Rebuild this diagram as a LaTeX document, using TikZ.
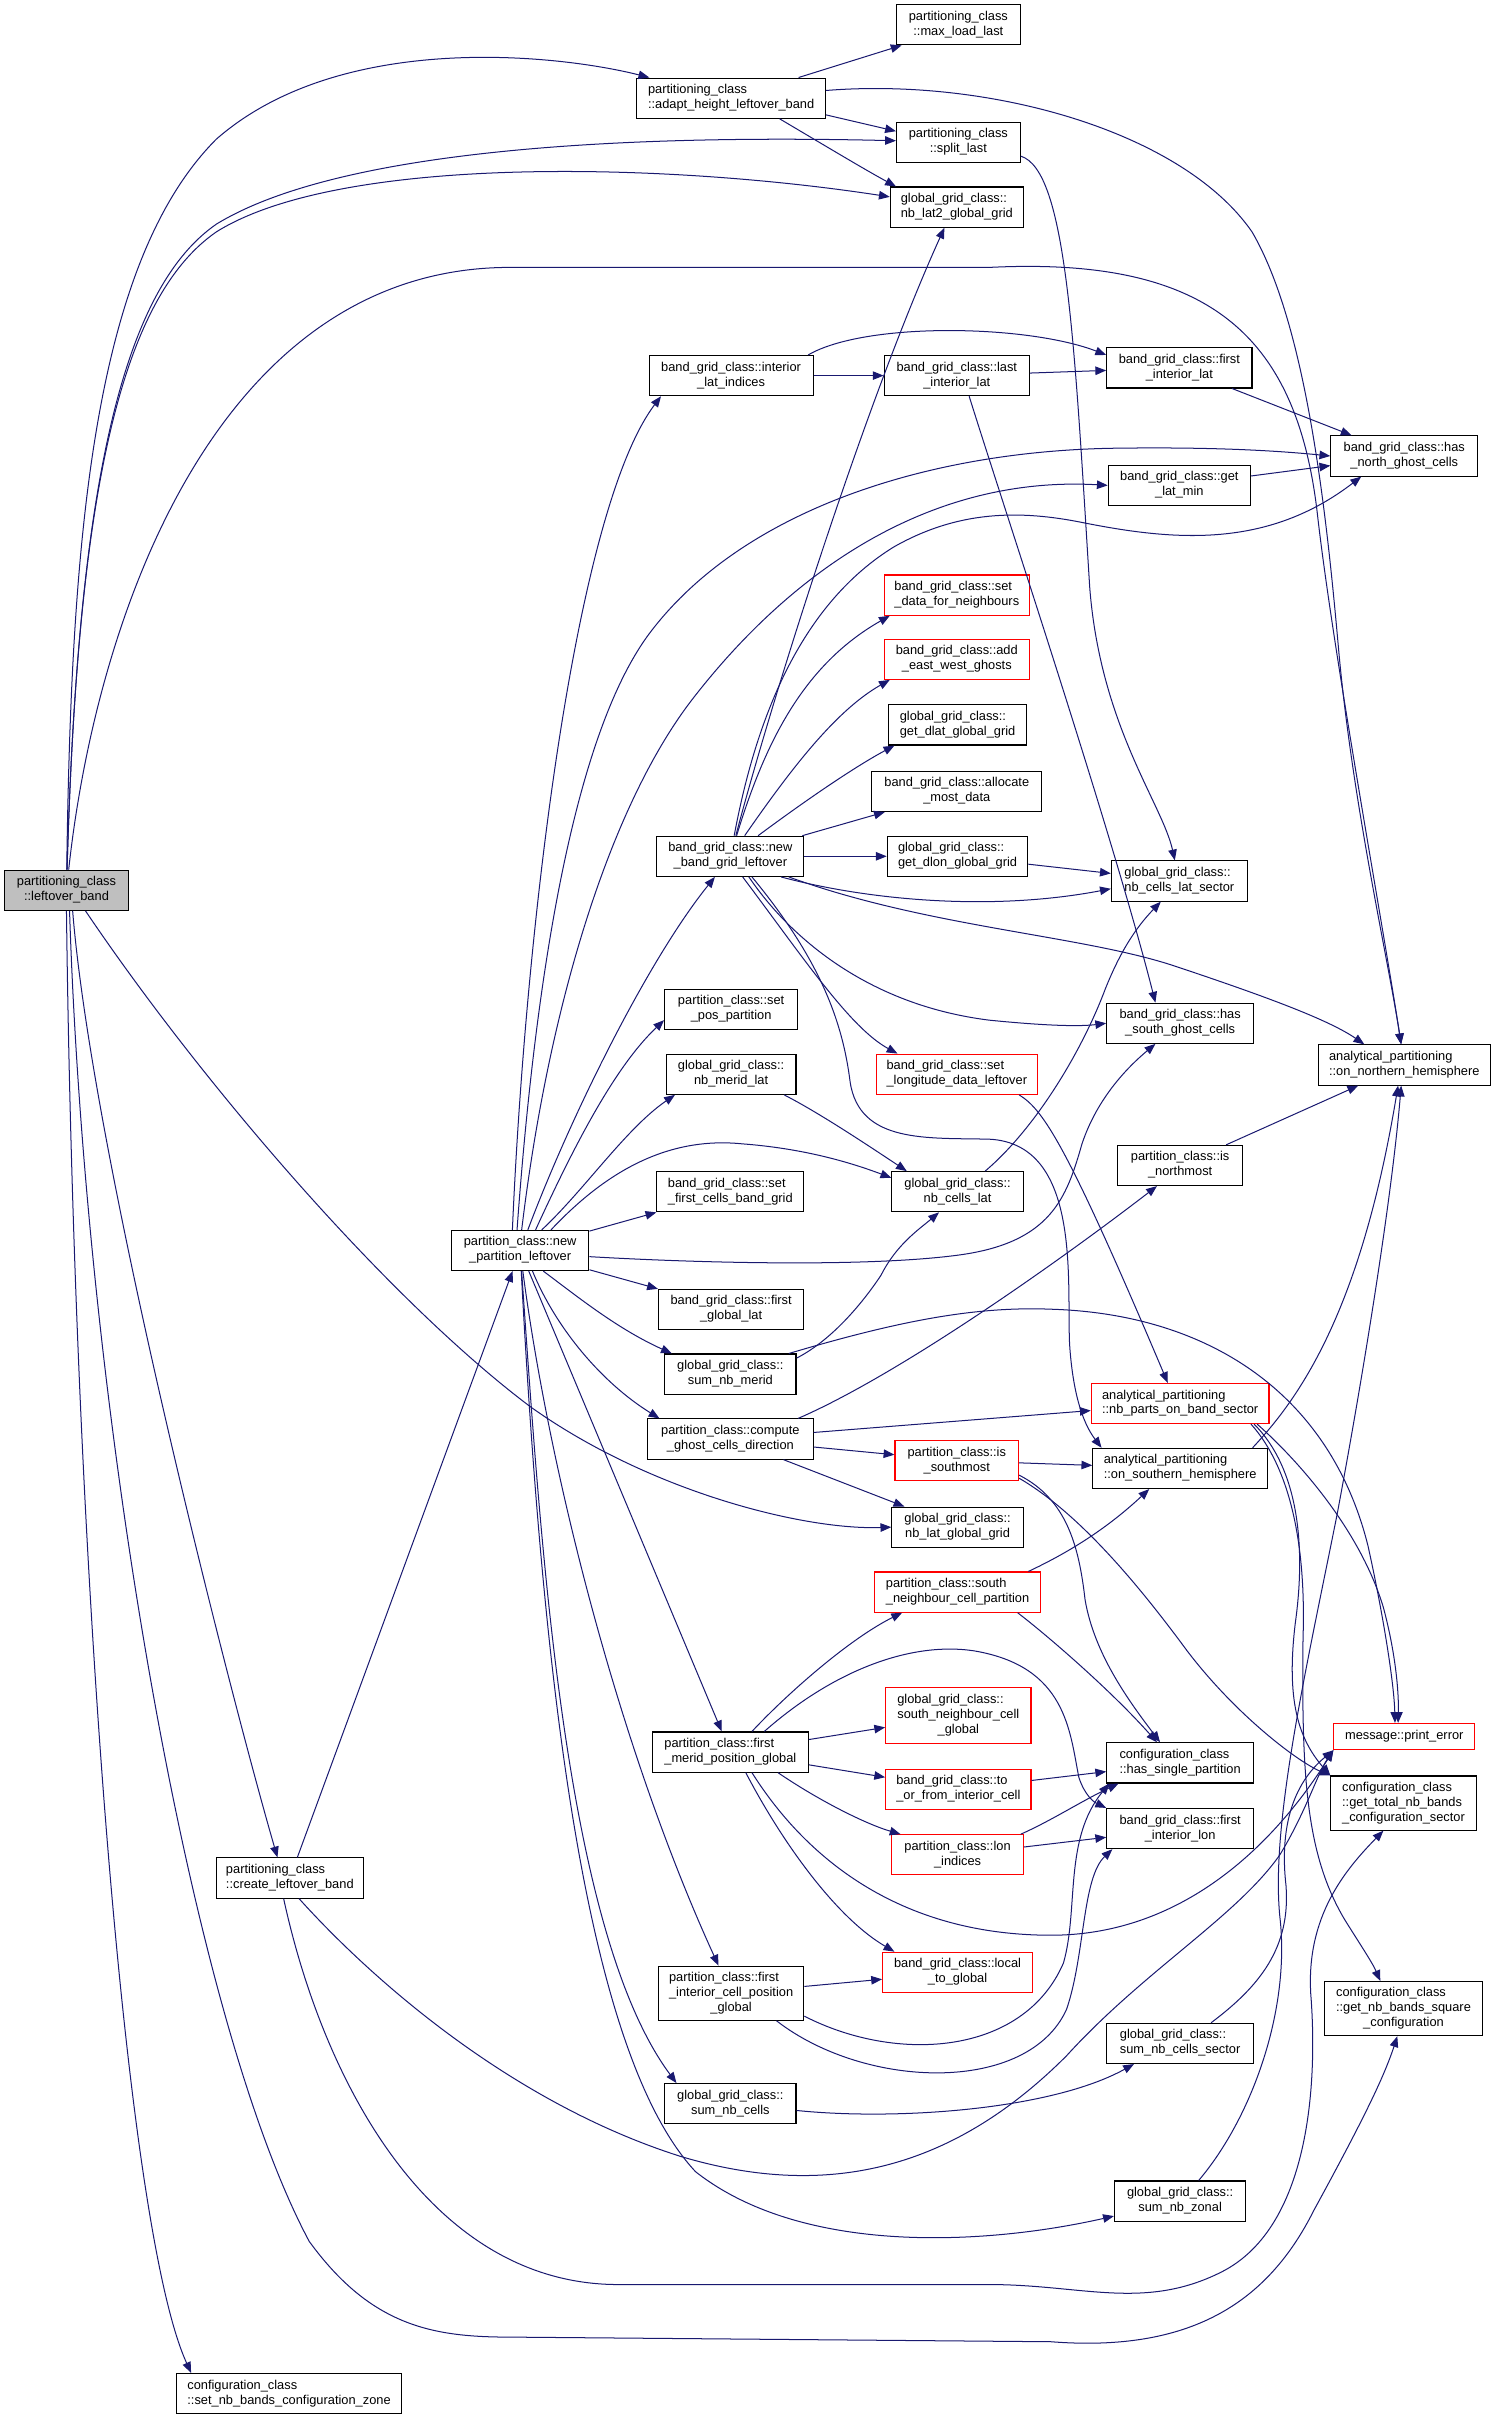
\documentclass[tikz,border=0pt]{standalone}
\usepackage{fontspec}
\setmainfont{Liberation Sans}
\usetikzlibrary{arrows.meta,calc}
\definecolor{edgeblue}{HTML}{191970}
\definecolor{nred}{HTML}{FF0000}
\definecolor{nfill}{HTML}{BFBFBF}
\newcommand{\nlab}[2]{\begin{tabular}{@{}l@{}}#1\\\multicolumn{1}{@{}c@{}}{#2}\end{tabular}}
\newcommand{\nlabc}[3]{\begin{tabular}{@{}l@{}}#1\\#2\\\multicolumn{1}{@{}c@{}}{#3}\end{tabular}}
\begin{document}
\begin{tikzpicture}[x=1pt,y=-1pt,
  box/.style={draw=black, line width=0.7pt, fill=white, inner xsep=2pt, inner ysep=1pt,
    minimum height=26pt, font=\fontsize{8.3}{9.7}\selectfont},
  rbox/.style={box, draw=nred},
  e/.style={draw=edgeblue, line width=0.65pt, -{Triangle[length=7pt,width=5.5pt]}}]
\useasboundingbox (0,0) rectangle (968,1565);
\fill[white] (0,0) rectangle (968,1565);
% nodes
\node[box,fill=nfill,minimum width=80pt] (L) at (43,576) {\nlab{partitioning\_class}{::leftover\_band}};
\node[box,minimum width=80pt] (mll) at (620,16) {\nlab{partitioning\_class}{::max\_load\_last}};
\node[box,minimum width=122pt] (adapt) at (473,63.5) {\nlab{partitioning\_class}{::adapt\_height\_leftover\_band}};
\node[box,minimum width=80pt] (spl) at (620,92) {\nlab{partitioning\_class}{::split\_last}};
\node[box,minimum width=86pt] (nblat2) at (619,134) {\nlab{global\_grid\_class::}{nb\_lat2\_global\_grid}};
\node[box,minimum width=106pt] (ili) at (473,243) {\nlab{band\_grid\_class::interior}{\_lat\_indices}};
\node[box,minimum width=94pt] (lil) at (619,243) {\nlab{band\_grid\_class::last}{\_interior\_lat}};
\node[box,minimum width=94pt] (fil) at (763,238) {\nlab{band\_grid\_class::first}{\_interior\_lat}};
\node[box,minimum width=95pt] (hn) at (908.5,295) {\nlab{band\_grid\_class::has}{\_north\_ghost\_cells}};
\node[box,minimum width=92pt] (glm) at (763,314) {\nlab{band\_grid\_class::get}{\_lat\_min}};
\node[rbox,minimum width=94pt] (sdn) at (619,385) {\nlab{band\_grid\_class::set}{\_data\_for\_neighbours}};
\node[rbox,minimum width=94pt] (aew) at (619,426.5) {\nlab{band\_grid\_class::add}{\_east\_west\_ghosts}};
\node[box,minimum width=89pt] (gdlat) at (619.5,469) {\nlab{global\_grid\_class::}{get\_dlat\_global\_grid}};
\node[box,minimum width=110pt] (amd) at (619,512) {\nlab{band\_grid\_class::allocate}{\_most\_data}};
\node[box,minimum width=95pt] (nbg) at (472.5,554) {\nlab{band\_grid\_class::new}{\_band\_grid\_leftover}};
\node[box,minimum width=91pt] (gdlon) at (619.5,554) {\nlab{global\_grid\_class::}{get\_dlon\_global\_grid}};
\node[box,minimum width=88pt] (ncls) at (763,570) {\nlab{global\_grid\_class::}{nb\_cells\_lat\_sector}};
\node[box,minimum width=95pt] (hs) at (763.5,662) {\nlab{band\_grid\_class::has}{\_south\_ghost\_cells}};
\node[box,minimum width=111pt] (onh) at (908.5,689) {\nlab{analytical\_partitioning}{::on\_northern\_hemisphere}};
\node[box,minimum width=86pt] (spp) at (473,653) {\nlab{partition\_class::set}{\_pos\_partition}};
\node[box,minimum width=84pt] (nml) at (473,695) {\nlab{global\_grid\_class::}{nb\_merid\_lat}};
\node[rbox,minimum width=104pt] (sld) at (619,695) {\nlab{band\_grid\_class::set}{\_longitude\_data\_leftover}};
\node[box,minimum width=81pt] (inm) at (763.5,754) {\nlab{partition\_class::is}{\_northmost}};
\node[box,minimum width=85pt] (ncl) at (619.5,771) {\nlab{global\_grid\_class::}{nb\_cells\_lat}};
\node[box,minimum width=95pt] (sfc) at (472.5,771) {\nlab{band\_grid\_class::set}{\_first\_cells\_band\_grid}};
\node[box,minimum width=89pt] (npl) at (336.5,809) {\nlab{partition\_class::new}{\_partition\_leftover}};
\node[box,minimum width=94pt] (fgl) at (473,847) {\nlab{band\_grid\_class::first}{\_global\_lat}};
\node[box,minimum width=85pt] (snm) at (472.5,889) {\nlab{global\_grid\_class::}{sum\_nb\_merid}};
\node[rbox,minimum width=115pt] (npb) at (763.5,908) {\nlab{analytical\_partitioning}{::nb\_parts\_on\_band\_sector}};
\node[box,minimum width=107pt] (cgd) at (472.5,931) {\nlab{partition\_class::compute}{\_ghost\_cells\_direction}};
\node[rbox,minimum width=80pt] (ism) at (619,945) {\nlab{partition\_class::is}{\_southmost}};
\node[box,minimum width=113pt] (osh) at (763.5,950) {\nlab{analytical\_partitioning}{::on\_southern\_hemisphere}};
\node[box,minimum width=85pt] (nlgg) at (619.5,988) {\nlab{global\_grid\_class::}{nb\_lat\_global\_grid}};
\node[rbox,minimum width=107pt] (sncp) at (619.5,1030) {\nlab{partition\_class::south}{\_neighbour\_cell\_partition}};
\node[rbox,minimum width=94pt,minimum height=36pt] (sncg) at (620,1110) {\nlabc{global\_grid\_class::}{south\_neighbour\_cell}{\_global}};
\node[rbox,minimum width=91pt,minimum height=17pt] (pe) at (908.5,1123.5) {message::print\_error};
\node[box,minimum width=101pt] (fmp) at (472.5,1133.5) {\nlab{partition\_class::first}{\_merid\_position\_global}};
\node[box,minimum width=95pt] (hsp) at (763.5,1140.5) {\nlab{configuration\_class}{::has\_single\_partition}};
\node[rbox,minimum width=94pt] (tof) at (620,1157.5) {\nlab{band\_grid\_class::to}{\_or\_from\_interior\_cell}};
\node[box,minimum width=94pt,minimum height=35pt] (gtn) at (908,1166.5) {\nlabc{configuration\_class}{::get\_total\_nb\_bands}{\_configuration\_sector}};
\node[box,minimum width=95pt] (filon) at (763.5,1183) {\nlab{band\_grid\_class::first}{\_interior\_lon}};
\node[rbox,minimum width=85pt] (lonidx) at (619.5,1200) {\nlab{partition\_class::lon}{\_indices}};
\node[box,minimum width=95pt] (clb) at (187.5,1215) {\nlab{partitioning\_class}{::create\_leftover\_band}};
\node[rbox,minimum width=97pt] (ltg) at (619.5,1276) {\nlab{band\_grid\_class::local}{\_to\_global}};
\node[box,minimum width=94pt,minimum height=35pt] (ficp) at (473,1289.5) {\nlabc{partition\_class::first}{\_interior\_cell\_position}{\_global}};
\node[box,minimum width=102pt,minimum height=35pt] (gnbs) at (908,1299.5) {\nlabc{configuration\_class}{::get\_nb\_bands\_square}{\_configuration}};
\node[box,minimum width=95pt] (sncs) at (763.5,1322) {\nlab{global\_grid\_class::}{sum\_nb\_cells\_sector}};
\node[box,minimum width=85pt] (snc) at (472.5,1361) {\nlab{global\_grid\_class::}{sum\_nb\_cells}};
\node[box,minimum width=85pt] (snz) at (763.5,1424) {\nlab{global\_grid\_class::}{sum\_nb\_zonal}};
\node[box,minimum width=146pt] (snbz) at (187,1548.5) {\nlab{configuration\_class}{::set\_nb\_bands\_configuration\_zone}};
% edges from leftover_band
\draw[e] (L) .. controls (46,350) and (60,170) .. (140,90) .. controls (220,20) and (360,35) .. (adapt);
\draw[e] (L) .. controls (50,330) and (75,190) .. (140,145) .. controls (230,90) and (450,88) .. (spl);
\draw[e] (L) .. controls (50,330) and (75,195) .. (140,150) .. controls (220,100) and (430,105) .. (nblat2);
\draw[e] (L) .. controls (62,400) and (140,173) .. (330,173) -- (640,173) .. controls (780,166) and (838,215) .. (852,330) .. controls (862,420) and (895,600) .. (onh);
\draw[e] ($(L.south east)+(-28,0)$) .. controls (130,700) and (250,840) .. (343,910) .. controls (420,965) and (520,990) .. (nlgg.west);
\draw[e] ($(L.south)+(4,0)$) .. controls (60,750) and (150,1100) .. ($(clb.north)+(-8,0)$);
\draw[e] (L.south) .. controls (48,1000) and (80,1440) .. ($(snbz.north west)+(10,0)$);
\draw[e] ($(L.south)+(2,0)$) .. controls (55,900) and (120,1300) .. (200,1450) .. controls (240,1505) and (280,1512) .. (330,1512) -- (680,1515) .. controls (770,1522) and (820,1490) .. (850,1430) .. controls (880,1375) and (895,1345) .. ($(gnbs.south)+(-4,0)$);
% adapt_height_leftover_band
\draw[e] (adapt) .. controls (640,50) and (765,85) .. (810,150) .. controls (845,210) and (858,330) .. (866,420) .. controls (875,520) and (898,620) .. (onh);
\draw[e] (adapt.17) -- (mll.200);
\draw[e] (adapt.-10) -- (spl.170);
\draw[e] ($(adapt.south east)+(-30,0)$) .. controls (535,95) and (560,110) .. ($(nblat2.north west)+(4,0)$);
\draw[e] ($(spl.east)+(0,9)$) .. controls (690,110) and (695,220) .. (705,380) .. controls (712,470) and (752,520) .. (ncls);
% band grid interior
\draw[e] (ili) -- (lil);
\draw[e] (ili.15) .. controls (560,208) and (665,210) .. (fil.170);
\draw[e] (lil) -- (fil);
\draw[e] (fil) -- (hn);
\draw[e] (glm) -- (hn);
\draw[e] ($(lil.south)+(8,0)$) .. controls (650,330) and (720,540) .. ($(hs.north)+(-16,0)$);
% new_partition_leftover
\draw[e] ($(npl.north)+(-5,0)$) .. controls (340,600) and (372,330) .. ($(ili.south west)+(8,0)$);
\draw[e] ($(npl.north)+(-2,0)$) .. controls (345,650) and (368,480) .. (420,410) .. controls (480,330) and (600,292) .. (720,290) .. controls (790,289) and (830,292) .. (hn.west);
\draw[e] ($(npl.north)+(1,0)$) .. controls (355,650) and (395,520) .. (449,451) .. controls (520,360) and (610,308) .. (glm.west);
\draw[e] ($(npl.north)+(5,0)$) .. controls (370,720) and (420,620) .. ($(nbg.south)+(-10,0)$);
\draw[e] ($(npl.north)+(10,0)$) .. controls (372,740) and (398,690) .. ($(spp.west)+(0,7)$);
\draw[e] ($(npl.north)+(14,0)$) .. controls (378,770) and (405,730) .. ($(nml.south west)+(6,0)$);
\draw[e] ($(npl.north)+(20,0)$) .. controls (390,760) and (430,735) .. (480,740) .. controls (520,743) and (550,752) .. ($(ncl.west)+(0,-9)$);
\draw[e] (npl) -- (sfc);
\draw[e] ($(npl.east)+(0,4)$) .. controls (450,817) and (560,820) .. (620,812) .. controls (680,804) and (690,775) .. (700,740) .. controls (710,710) and (730,690) .. ($(hs.south)+(-16,0)$);
\draw[e] (npl) -- (fgl);
\draw[e] ($(npl.south)+(15,0)$) .. controls (375,840) and (400,860) .. ($(snm.north west)+(5,0)$);
\draw[e] ($(npl.south)+(8,0)$) .. controls (360,860) and (390,895) .. ($(cgd.north west)+(8,0)$);
\draw[e] (npl) -- (fmp);
\draw[e] (npl) .. controls (355,950) and (400,1130) .. (ficp);
\draw[e] (npl) .. controls (350,1000) and (365,1250) .. ($(snc.north west)+(8,0)$);
\draw[e] (npl) .. controls (352,1100) and (380,1330) .. (450,1405) .. controls (520,1460) and (640,1452) .. (snz);
% new_band_grid_leftover
\draw[e] (nbg) .. controls (500,450) and (560,260) .. ($(nblat2.south)+(-8,0)$);
\draw[e] (nbg) .. controls (495,480) and (520,430) .. ($(sdn.south west)+(4,0)$);
\draw[e] (nbg) .. controls (510,500) and (540,460) .. ($(aew.south west)+(4,0)$);
\draw[e] (nbg) .. controls (525,515) and (555,495) .. ($(gdlat.south west)+(4,0)$);
\draw[e] (nbg) -- (amd);
\draw[e] (nbg) -- (gdlon);
\draw[e] (gdlon) -- (ncls);
\draw[e] ($(nbg.south east)+(-15,0)$) .. controls (560,582) and (640,590) .. ($(ncls.west)+(0,5)$);
\draw[e] ($(nbg.south east)+(-10,0)$) .. controls (600,600) and (700,605) .. (760,625) .. controls (820,645) and (860,660) .. ($(onh.north west)+(30,0)$);
\draw[e] ($(nbg.south)+(12,0)$) .. controls (510,605) and (560,650) .. (640,660) .. controls (680,664) and (700,664) .. (hs.west);
\draw[e] ($(nbg.south)+(8,0)$) .. controls (520,620) and (550,665) .. ($(sld.north west)+(14,0)$);
\draw[e] ($(nbg.south)+(14,0)$) .. controls (530,620) and (545,660) .. (550,700) .. controls (556,740) and (600,736) .. (640,737) .. controls (700,740) and (690,830) .. (692,870) .. controls (694,900) and (700,920) .. ($(osh.north west)+(6,0)$);
\draw[e] (nbg) .. controls (490,460) and (520,390) .. (578,354) .. controls (620,330) and (660,330) .. (700,338) .. controls (760,350) and (820,355) .. ($(hn.south west)+(20,0)$);
% middle column
\draw[e] ($(ncl.north east)+(-25,0)$) .. controls (670,730) and (700,680) .. (715,640) .. controls (725,615) and (735,600) .. ($(ncls.south)+(-12,0)$);
\draw[e] ($(nml.south east)+(-8,0)$) .. controls (530,720) and (560,740) .. ($(ncl.north west)+(10,0)$);
\draw[e] ($(snm.north east)+(0,3)$) .. controls (540,866) and (560,840) .. (570,825) .. controls (580,805) and (595,795) .. ($(ncl.south)+(-12,0)$);
\draw[e] ($(snm.north east)+(-5,0)$) .. controls (580,855) and (630,845) .. (680,847) .. controls (780,850) and (860,900) .. (885,1000) .. controls (895,1045) and (902,1090) .. ($(pe.north)+(-6,0)$);
\draw[e] ($(sld.south east)+(-12,0)$) .. controls (675,718) and (690,740) .. ($(npb.north)+(-8,0)$);
\draw[e] (inm) -- (onh);
\draw[e] ($(cgd.north east)+(-10,0)$) .. controls (580,890) and (680,820) .. ($(inm.south)+(-15,0)$);
\draw[e] (cgd) -- (npb);
\draw[e] (cgd) -- (ism);
\draw[e] (cgd) -- (nlgg);
\draw[e] (ism) -- (osh);
\draw[e] ($(ism.south east)+(0,-4)$) .. controls (690,970) and (698,1000) .. (702,1035) .. controls (708,1070) and (730,1100) .. ($(hsp.north)+(-13,0)$);
\draw[e] ($(ism.south east)+(0,-2)$) .. controls (700,980) and (740,1030) .. (768,1068) .. controls (800,1110) and (840,1140) .. (gtn.north west);
\draw[e] ($(sncp.north east)+(-8,0)$) .. controls (690,1005) and (715,990) .. ($(osh.south)+(-20,0)$);
\draw[e] ($(sncp.south east)+(-15,0)$) .. controls (680,1060) and (720,1095) .. ($(hsp.north)+(-15,0)$);
% create_leftover_band
\draw[e] (clb) -- (npl);
\draw[e] ($(clb.south)+(6,0)$) .. controls (240,1280) and (330,1360) .. (440,1395) .. controls (540,1425) and (620,1400) .. (690,1330) .. controls (740,1275) and (800,1240) .. (828,1200) .. controls (845,1172) and (852,1148) .. (pe.south west);
\draw[e] ($(clb.south)+(-4,0)$) .. controls (210,1350) and (280,1478) .. (400,1478) -- (640,1478) .. controls (700,1478) and (740,1495) .. (790,1470) .. controls (850,1440) and (852,1340) .. (848,1290) .. controls (845,1240) and (870,1210) .. ($(gtn.south)+(-13,0)$);
% first_merid_position_global
\draw[e] ($(fmp.north)+(14,0)$) .. controls (510,1095) and (550,1060) .. ($(sncp.south west)+(18,0)$);
\draw[e] ($(fmp.north)+(22,0)$) .. controls (540,1080) and (590,1062) .. (630,1068) .. controls (690,1078) and (692,1120) .. (698,1150) .. controls (702,1162) and (708,1166) .. (filon.north west);
\draw[e] (fmp) -- (sncg);
\draw[e] (fmp) -- (tof);
\draw[e] ($(fmp.south east)+(-20,0)$) .. controls (530,1165) and (560,1180) .. ($(lonidx.north west)+(6,0)$);
\draw[e] ($(fmp.south)+(10,0)$) .. controls (505,1190) and (540,1240) .. ($(ltg.north west)+(8,0)$);
\draw[e] ($(fmp.south)+(14,0)$) .. controls (520,1200) and (580,1252) .. (680,1252) .. controls (760,1252) and (820,1200) .. (pe.south west);
% first_interior_cell_position_global
\draw[e] (ficp) -- (ltg);
\draw[e] ($(ficp.south east)+(0,-3)$) .. controls (580,1335) and (662,1330) .. (688,1270) .. controls (698,1235) and (688,1190) .. ($(hsp.south west)+(2,0)$);
\draw[e] ($(ficp.south east)+(-18,0)$) .. controls (560,1352) and (665,1355) .. (690,1300) .. controls (702,1265) and (700,1215) .. ($(filon.south west)+(4,0)$);
\draw[e] ($(lonidx.north east)+(-2,0)$) .. controls (680,1178) and (700,1165) .. ($(hsp.south west)+(8,0)$);
\draw[e] (lonidx) -- (filon);
\draw[e] (tof) -- (hsp);
\draw[e] (snc) .. controls (580,1372) and (680,1365) .. ($(sncs.south west)+(18,0)$);
% right side
\draw[e] ($(sncs.north)+(20,0)$) .. controls (815,1285) and (835,1260) .. (832,1220) .. controls (828,1185) and (835,1155) .. (pe.south west);
\draw[e] ($(snz.north)+(12,0)$) .. controls (810,1370) and (835,1300) .. (828,1240) .. controls (822,1180) and (845,1080) .. (865,980) .. controls (880,900) and (900,780) .. ($(onh.south)+(-2,0)$);
\draw[e] ($(osh.north east)+(-10,0)$) .. controls (840,905) and (880,850) .. ($(onh.south)+(-4,0)$);
\draw[e] ($(npb.south east)+(-8,0)$) .. controls (840,945) and (880,990) .. (895,1040) .. controls (903,1070) and (905,1095) .. ($(pe.north)+(-4,0)$);
\draw[e] ($(npb.south east)+(-10,0)$) .. controls (840,950) and (845,1000) .. (838,1050) .. controls (832,1100) and (840,1125) .. (gtn.north west);
\draw[e] ($(npb.south east)+(-12,0)$) .. controls (835,950) and (845,1000) .. (843,1060) .. controls (842,1150) and (845,1200) .. (870,1242) .. controls (880,1258) and (888,1270) .. ($(gnbs.north)+(-15,0)$);
\end{tikzpicture}
\end{document}
